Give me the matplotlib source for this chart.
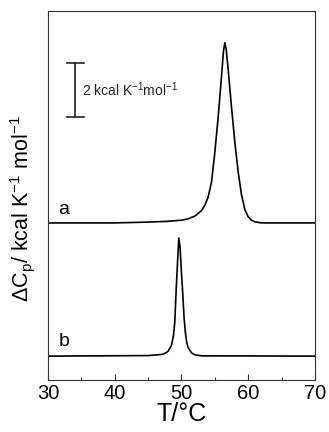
import matplotlib
matplotlib.use("Agg")
import matplotlib.pyplot as plt
from matplotlib.ticker import MultipleLocator

# ────────────────────────────────────────────────────────────────
# DATA  (excess heat capacity, kcal K^-1 mol^-1, above each baseline)
# ────────────────────────────────────────────────────────────────
t_a = [30, 40, 45, 48, 50, 51, 52, 53, 53.5, 54, 54.5, 55, 55.5, 56, 56.3,
       56.5, 56.7, 57, 57.5, 58, 58.5, 59, 59.5, 60, 60.5, 61, 62, 70]
cp_a = [0.0, 0.0, 0.03, 0.06, 0.1, 0.15, 0.25, 0.45, 0.65, 0.95, 1.5, 2.6,
        3.9, 5.4, 6.35, 6.67, 6.45, 5.7, 4.3, 3.0, 1.9, 1.05, 0.5, 0.23,
        0.1, 0.04, 0.0, 0.0]

t_b = [30, 45, 47, 47.5, 48, 48.5, 48.8, 49, 49.2, 49.4, 49.6, 49.8, 50,
       50.2, 50.4, 50.6, 50.8, 51, 51.5, 52, 53, 70]
cp_b = [0.0, 0.02, 0.06, 0.1, 0.18, 0.4, 0.75, 1.25, 2.4, 3.4, 4.37, 4.0,
        3.1, 2.3, 1.4, 0.85, 0.5, 0.32, 0.12, 0.05, 0.01, 0.0]

offset_a = 4.93   # baseline of trace a
offset_b = 0.0    # baseline of trace b

scale_T = 34.0
scale_lo, scale_hi = 8.85, 10.85   # 2 kcal K^-1 mol^-1 bar

# ────────────────────────────────────────────────────────────────
# PLOT
# ────────────────────────────────────────────────────────────────
plt.rcParams['font.family'] = ['Liberation Sans', 'DejaVu Sans']
plt.rcParams['mathtext.fontset'] = 'custom'
plt.rcParams['mathtext.rm'] = 'Liberation Sans'
plt.rcParams['mathtext.it'] = 'Liberation Sans'

fig = plt.figure(figsize=(3.29, 4.32), dpi=100)
ax = fig.add_axes([0.146, 0.120, 0.811, 0.855])

ax.plot(t_a, [v + offset_a for v in cp_a], color='black', lw=1.2)
ax.plot(t_b, [v + offset_b for v in cp_b], color='black', lw=1.2)

# scale bar
ax.plot([scale_T, scale_T], [scale_lo, scale_hi], color='#222222', lw=1.2)
ax.plot([scale_T - 1.2, scale_T + 1.4], [scale_lo, scale_lo], color='#222222', lw=1.2)
ax.plot([scale_T - 1.2, scale_T + 1.4], [scale_hi, scale_hi], color='#222222', lw=1.2)
ax.text(scale_T + 1.1, (scale_lo + scale_hi) / 2,
        r'2 kcal K$^{\mathregular{-1}}$mol$^{\mathregular{-1}}$',
        fontsize=10, va='center', ha='left', color='#222222')

ax.text(32.4, offset_a + 0.5, 'a', fontsize=14, ha='center', va='center')
ax.text(32.4, offset_b + 0.55, 'b', fontsize=14, ha='center', va='center')

ax.set_xlim(30, 70)
ax.set_ylim(-0.89, 12.78)
ax.xaxis.set_major_locator(MultipleLocator(10))
ax.xaxis.set_minor_locator(MultipleLocator(5))
ax.tick_params(axis='x', which='major', direction='in', length=4, width=0.8,
               labelsize=14.5, pad=3, color='#333333')
ax.tick_params(axis='x', which='minor', direction='in', length=2.5, width=0.8,
               color='#333333')
ax.set_yticks([])
for s in ax.spines.values():
    s.set_linewidth(0.8)
    s.set_color('#333333')

ax.set_xlabel('T/°C', fontsize=18, labelpad=-1)
ax.set_ylabel(r'ΔC$_\mathregular{p}$/ kcal K$^{\mathregular{-1}}$ mol$^{\mathregular{-1}}$',
              fontsize=15.5)
ax.yaxis.set_label_coords(-0.04, 0.465)

plt.savefig('out.png', dpi=100)
plt.close()
